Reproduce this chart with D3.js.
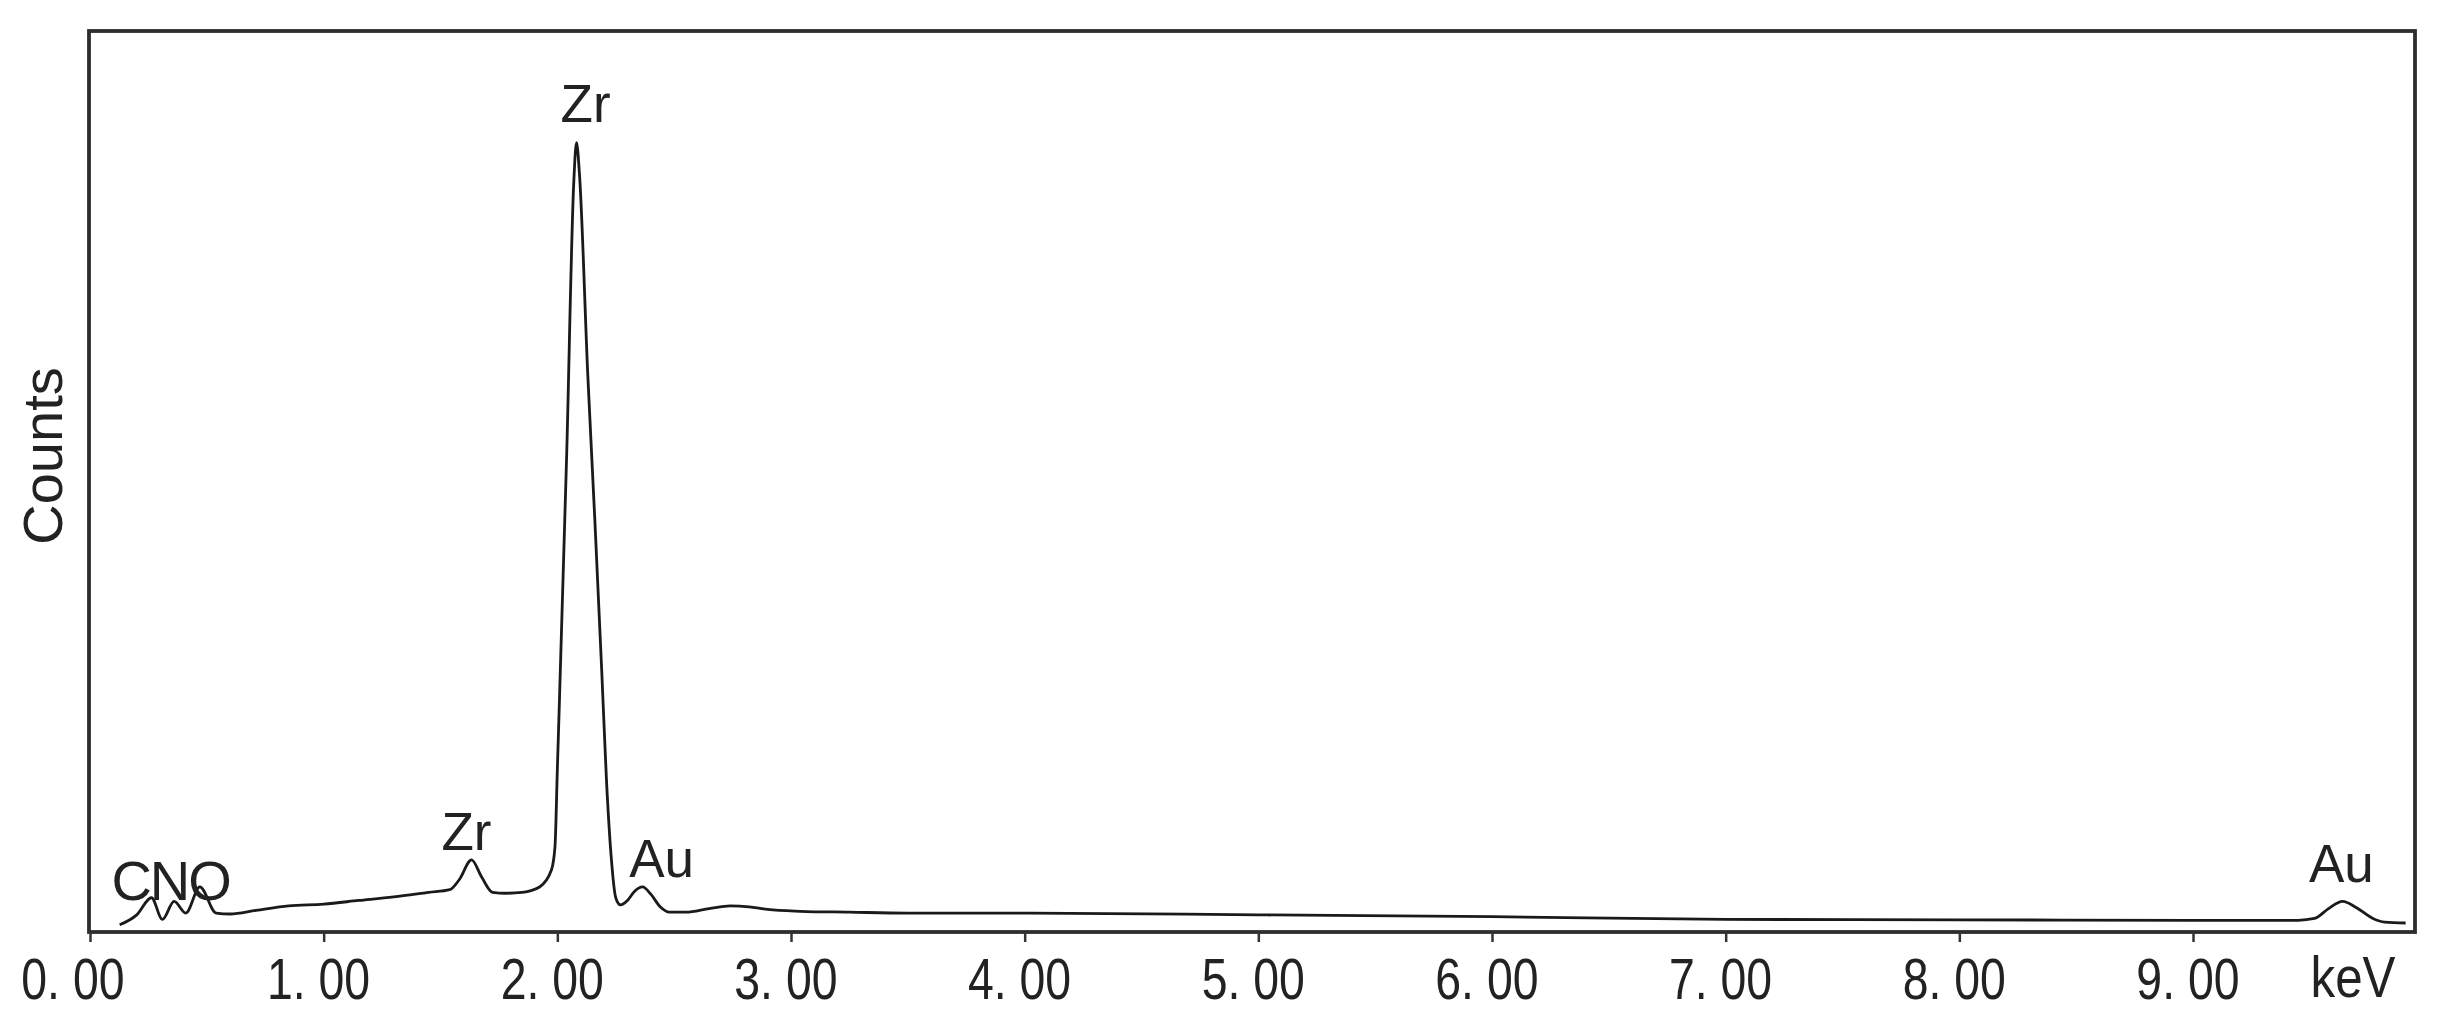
<!DOCTYPE html>
<html>
<head>
<meta charset="utf-8">
<script src="https://cdn.jsdelivr.net/npm/d3@7"></script>
<style>
  html, body { margin: 0; padding: 0; background: #fff; }
  text { font-family: "Liberation Sans", Arial, sans-serif; fill: #222; }
</style>
</head>
<body>
<svg id="chart" width="2443" height="1029"></svg>
<script>
// EDS spectrum (counts are arbitrary units)
const energyKeV = [
  0.127, 0.20, 0.263, 0.31, 0.36, 0.41, 0.47, 0.54, 0.60, 0.71, 0.85, 1.00, 1.15, 1.30,
  1.45, 1.54, 1.58, 1.633, 1.676, 1.723, 1.78, 1.85, 1.924, 1.975, 1.99, 2.00, 2.04,
  2.07, 2.082, 2.095, 2.13, 2.16, 2.19, 2.21, 2.23, 2.25, 2.27, 2.30, 2.33, 2.365,
  2.40, 2.44, 2.48, 2.55, 2.65, 2.74, 2.82, 2.90, 3.04, 3.25, 3.50, 4.00, 5.00, 6.00,
  7.00, 8.00, 9.00, 9.45, 9.52, 9.58, 9.64, 9.70, 9.77, 9.82, 9.91
]
const counts = [
  8, 19, 38, 14, 34, 21, 50, 21, 20, 24, 29, 31, 35, 39,
  44, 47, 58, 80, 61, 44, 43, 44, 50, 69, 95, 180, 530,
  830, 876, 840, 620, 460, 290, 170, 85, 38, 30, 35, 45, 50,
  42, 28, 22, 22, 26, 29, 28, 25, 23, 22, 21, 21, 19, 17,
  14, 13.5, 13, 13, 15, 26, 34, 27, 15, 11, 10
]
const tickValues = [0, 1, 2, 3, 4, 5, 6, 7, 8, 9]
const unitLabel = 'keV'
const yLabel = 'Counts'
const peakText = ['CNO', 'Zr', 'Zr', 'Au', 'Au']
const peakEnergy = [0.345, 1.611, 2.121, 2.446, 9.635]

const width = 2443
const height = 1029
const margin = { top: 31, right: 28, bottom: 97, left: 90 }

const svg = d3.select('#chart')

const xScale = d3.scaleLinear()
    .domain([0, 9.95])
    .range([margin.left, width - margin.right])

const yScale = d3.scaleLinear()
    .domain([0, 1000])
    .range([height - margin.bottom, margin.top])

// frame
svg.append('rect')
    .attr('x', margin.left - 1)
    .attr('y', margin.top)
    .attr('width', width - margin.right - margin.left + 1)
    .attr('height', height - margin.bottom - margin.top)
    .attr('fill', 'none')
    .attr('stroke', '#2e2e2e')
    .attr('stroke-width', 3.8)

// x axis, narrow tall digits like the original
const xAxis = d3.axisBottom(xScale)
    .tickValues(tickValues)
    .tickSize(10)
    .tickPadding(16)
    .tickFormat(d => d3.format('.2f')(d).replace('.', '. '))

const gx = svg.append('g')
    .attr('transform', `translate(0,${height - margin.bottom})`)
    .call(xAxis)
gx.select('.domain').remove()
gx.selectAll('.tick line').attr('stroke', '#333').attr('stroke-width', 2.5)
gx.selectAll('.tick text')
    .attr('font-size', 58)
    .attr('font-family', '"Liberation Sans", Arial, sans-serif')
    .attr('fill', '#222')
    .attr('dx', -7)
    .attr('transform', 'scale(0.8,1)')
    .style('white-space', 'pre')
gx.selectAll('.tick text').filter(d => d === 0).attr('dx', -22)

svg.append('text')
    .attr('transform', 'translate(2353,997) scale(0.85,1)')
    .attr('text-anchor', 'middle')
    .attr('font-size', 58)
    .text(unitLabel)

// y label
svg.append('text')
    .attr('transform', 'translate(62,456) rotate(-90)')
    .attr('text-anchor', 'middle')
    .attr('font-size', 56)
    .text(yLabel)

// spectrum
const spectrum = energyKeV.map((e, i) => ({ e: e, c: counts[i] }))
const line = d3.line()
    .x(d => xScale(d.e))
    .y(d => yScale(d.c))
    .curve(d3.curveMonotoneX)

svg.append('path')
    .attr('d', line(spectrum))
    .attr('fill', 'none')
    .attr('stroke', '#1a1a1a')
    .attr('stroke-width', 2.8)
    .attr('stroke-linejoin', 'round')

// peak labels, placed above the local maximum of the curve
const labelDy = [2, -10, -21, -10, -19]
peakText.forEach((t, i) => {
    const near = spectrum.filter(d => Math.abs(d.e - peakEnergy[i]) < 0.1)
    const top = d3.max(near, d => d.c)
    svg.append('text')
        .attr('x', xScale(peakEnergy[i]))
        .attr('y', yScale(top) + labelDy[i])
        .attr('text-anchor', 'middle')
        .attr('font-size', t === 'CNO' ? 56 : 53)
        .attr('letter-spacing', t === 'CNO' ? -2 : 0)
        .text(t)
})
</script>
</body>
</html>
